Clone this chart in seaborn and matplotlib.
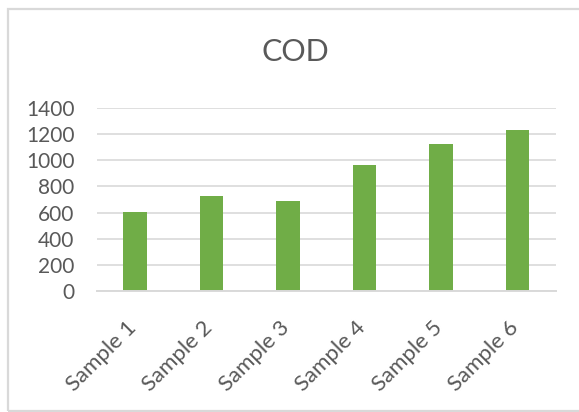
import matplotlib
matplotlib.use("Agg")
import matplotlib.pyplot as plt
import matplotlib.transforms as mtransforms
import seaborn as sns
import pandas as pd
from matplotlib.patches import Rectangle

# Chemical oxygen demand per sample
samples = ["Sample 1", "Sample 2", "Sample 3", "Sample 4", "Sample 5", "Sample 6"]
cod_values = [603, 728, 690, 966, 1127, 1234]
y_ticks = [0, 200, 400, 600, 800, 1000, 1200, 1400]

df = pd.DataFrame({"sample": samples, "cod": cod_values})

sns.set_theme(style="white")
plt.rcParams["font.family"] = ["Lato", "DejaVu Sans"]

text_color = "#595959"
grid_color = "#d9d9d9"
bar_color = "#70AD47"

fig = plt.figure(figsize=(5.79, 4.12), dpi=100)
ax = fig.add_axes([0.167, 0.2937, 0.793, 0.4442])

sns.barplot(data=df, x="sample", y="cod", color=bar_color, width=0.31,
            saturation=1, edgecolor="none", ax=ax, zorder=3)

ax.set_ylim(0, 1400)
ax.set_xlim(-0.5, 5.5)
ax.set_yticks(y_ticks)
ax.set_yticklabels([str(v) for v in y_ticks], fontsize=15, color=text_color)
ax.set_xticks(range(len(samples)))
ax.set_xticklabels(samples, rotation=45, ha="right", rotation_mode="anchor",
                   fontsize=16, color=text_color)
ax.tick_params(axis="y", length=0, pad=16)
ax.tick_params(axis="x", length=0, pad=14)
ax.set_xlabel("")
ax.set_ylabel("")

# Nudge rotated category labels so their ends sit under the bars
shift = mtransforms.ScaledTranslation(-9 / 100, -7 / 100, fig.dpi_scale_trans)
for lbl in ax.get_xticklabels():
    lbl.set_transform(lbl.get_transform() + shift)

ax.yaxis.grid(True, color=grid_color, linewidth=1.2, zorder=0)
ax.set_axisbelow(True)
for side in ["left", "right", "top"]:
    ax.spines[side].set_visible(False)
ax.spines["bottom"].set_color(grid_color)
ax.spines["bottom"].set_linewidth(1.4)
ax.spines["bottom"].set_zorder(4)

fig.text(0.51, 0.874, "COD", ha="center", va="center", fontsize=22, color=text_color)

# Chart area border
fig.patches.append(Rectangle((8 / 579, 1.5 / 412), 1.05, 1 - 10.5 / 412,
                             transform=fig.transFigure, fill=False,
                             edgecolor=grid_color, linewidth=1.6))

fig.savefig("out.png", dpi=100, facecolor="white")
